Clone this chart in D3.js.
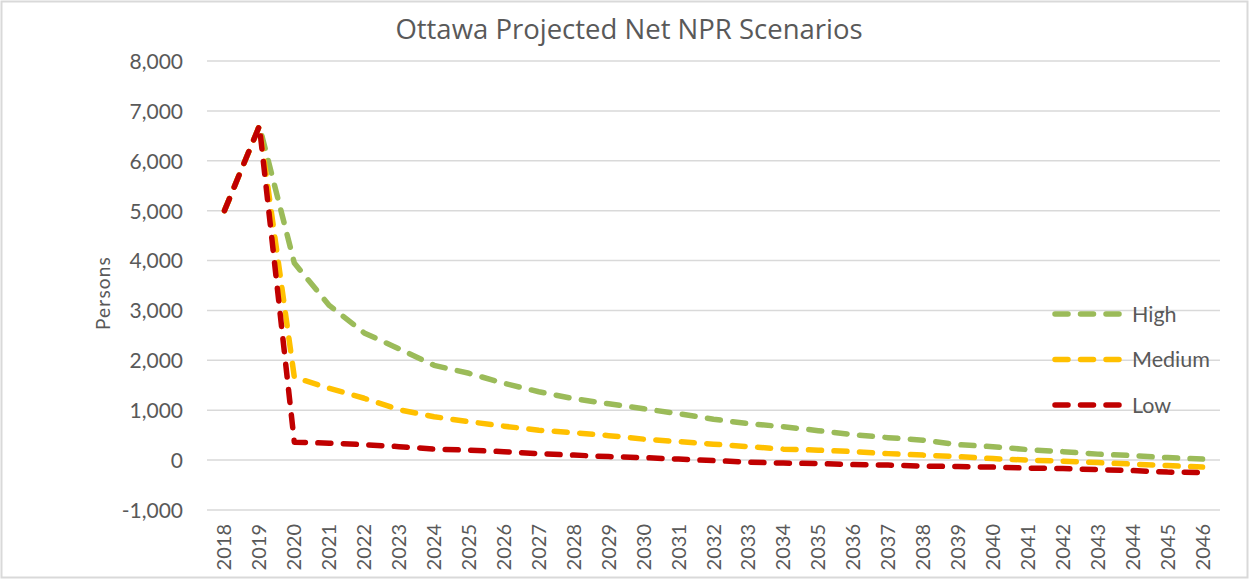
<!DOCTYPE html>
<html>
<head>
<meta charset="utf-8">
<title>Ottawa Projected Net NPR Scenarios</title>
<script src="https://cdn.jsdelivr.net/npm/d3@7"></script>
<style>
  body { margin: 0; background: #fff; }
  text { font-family: Lato, "Open Sans", sans-serif; fill: #595959; }
</style>
</head>
<body>
<div id="chart"></div>
<script>
// years on the x axis
var years = d3.range(2018, 2047).map(String);

// scenario values (persons)
var high = [5000, 6700, 3950, 3100, 2550, 2230, 1900, 1740, 1540, 1370, 1230, 1130, 1030, 930,
            820, 730, 670, 590, 510, 450, 400, 310, 270, 210, 170, 120, 90, 50, 20];
var medium = [5000, 6700, 1660, 1440, 1240, 1010, 870, 770, 680, 600, 550, 490, 420, 370,
              320, 270, 220, 200, 170, 130, 100, 70, 30, 0, -20, -50, -80, -110, -140];
var low = [5000, 6700, 360, 340, 310, 270, 220, 200, 170, 130, 100, 70, 50, 20,
           -10, -40, -60, -70, -90, -100, -120, -130, -140, -160, -170, -190, -210, -240, -250];

var seriesNames = ["High", "Medium", "Low"];
var seriesColors = ["#9BBB59", "#FFC000", "#C00000"];
var yTicks = [-1000, 0, 1000, 2000, 3000, 4000, 5000, 6000, 7000, 8000];

var width = 1249, height = 579;
var margin = {top: 61, right: 29, bottom: 69, left: 207};

var svg = d3.select("#chart").append("svg")
    .attr("width", width)
    .attr("height", height);

// outer frame
svg.append("rect")
    .attr("x", 1.5).attr("y", 1.5)
    .attr("width", width - 3).attr("height", height - 3)
    .attr("fill", "#fff")
    .attr("stroke", "#d9d9d9")
    .attr("stroke-width", 2);

var x = d3.scaleBand()
    .domain(years)
    .range([margin.left, width - margin.right]);

var y = d3.scaleLinear()
    .domain([-1000, 8000])
    .range([height - margin.bottom, margin.top]);

// gridlines
svg.append("g")
    .selectAll("line")
    .data(yTicks)
    .enter().append("line")
    .attr("x1", margin.left)
    .attr("x2", width - margin.right)
    .attr("y1", function(d) { return y(d); })
    .attr("y2", function(d) { return y(d); })
    .attr("stroke", "#d9d9d9")
    .attr("stroke-width", 1.5);

// y axis labels (plain hyphen for negatives, like the original)
var fmt = d3.format(",");
var yAxis = svg.append("g")
    .attr("transform", "translate(" + (margin.left - 21) + ",0)")
    .call(d3.axisLeft(y).tickValues(yTicks).tickSize(0)
        .tickFormat(function(d) { return fmt(d).replace("\u2212", "-"); }));
yAxis.select(".domain").remove();
yAxis.selectAll("text")
    .style("font-size", "21px")
    .attr("fill", "#595959")
    .attr("dy", "0.35em");

// x axis labels, rotated
var xAxis = svg.append("g")
    .attr("transform", "translate(0," + (height - margin.bottom + 14) + ")")
    .call(d3.axisBottom(x).tickSize(0));
xAxis.select(".domain").remove();
xAxis.selectAll("text")
    .style("font-size", "20px")
    .attr("fill", "#595959")
    .attr("transform", "rotate(-90)")
    .attr("text-anchor", "end")
    .attr("x", 0)
    .attr("y", 0)
    .attr("dx", "0")
    .attr("dy", "0.35em");

// title
svg.append("text")
    .attr("x", 629)
    .attr("y", 39)
    .attr("text-anchor", "middle")
    .style("font-family", "'Open Sans', sans-serif")
    .style("font-size", "27.5px")
    .text("Ottawa Projected Net NPR Scenarios");

// y axis title
svg.append("text")
    .attr("transform", "translate(103," + y(3350) + ") rotate(-90)")
    .attr("text-anchor", "middle")
    .attr("dy", "0.35em")
    .style("font-size", "19px")
    .style("letter-spacing", "1.2px")
    .text("Persons");

// lines
var line = d3.line()
    .x(function(d, i) { return x(years[i]) + x.bandwidth() / 2; })
    .y(function(d) { return y(d); });

var allSeries = [high, medium, low];
svg.append("g")
    .selectAll("path")
    .data(allSeries)
    .enter().append("path")
    .attr("d", line)
    .attr("fill", "none")
    .attr("stroke", function(d, i) { return seriesColors[i]; })
    .attr("stroke-width", 5.5)
    .attr("stroke-linecap", "round")
    .attr("stroke-linejoin", "round")
    .attr("stroke-dasharray", "13,12.5");

// legend
var legend = svg.append("g")
    .selectAll("g")
    .data(seriesNames)
    .enter().append("g")
    .attr("transform", function(d, i) { return "translate(1055," + (314 + i * 45.5) + ")"; });

legend.append("line")
    .attr("x1", 0).attr("x2", 67)
    .attr("stroke", function(d, i) { return seriesColors[i]; })
    .attr("stroke-width", 5.5)
    .attr("stroke-linecap", "round")
    .attr("stroke-dasharray", "13,12.5");

legend.append("text")
    .attr("x", 77)
    .attr("dy", "0.35em")
    .style("font-size", "21.5px")
    .text(function(d) { return d; });
</script>
</body>
</html>
